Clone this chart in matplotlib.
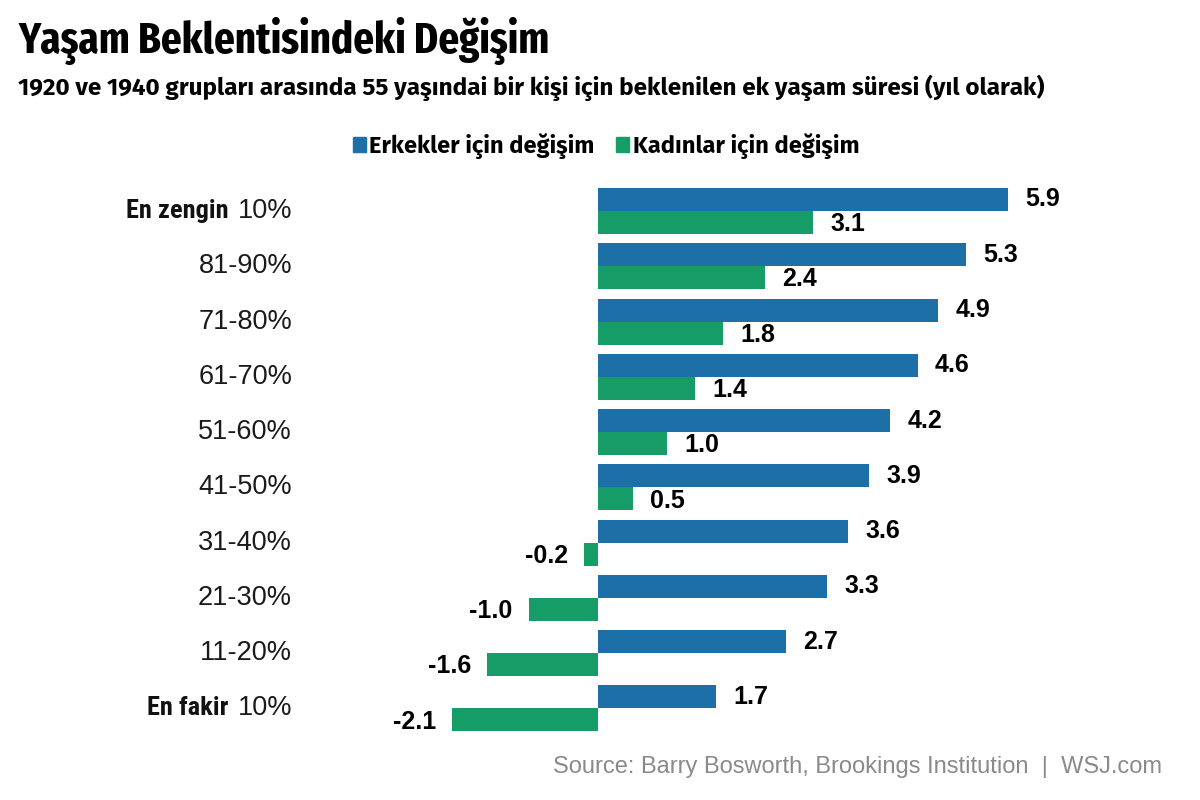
import matplotlib.pyplot as plt
from matplotlib.patches import Patch

# Veriler
kategoriler = ['En zengin 10%', '81-90%', '71-80%', '61-70%', '51-60%',
               '41-50%', '31-40%', '21-30%', '11-20%', 'En fakir 10%']
erkekler = [5.9, 5.3, 4.9, 4.6, 4.2, 3.9, 3.6, 3.3, 2.7, 1.7]
kadinlar = [3.1, 2.4, 1.8, 1.4, 1.0, 0.5, -0.2, -1.0, -1.6, -2.1]

mavi = '#1c6fa7'
yesil = '#169c66'
baslik_font = ['Fira Sans Extra Condensed', 'DejaVu Sans']
genis = ['Fira Sans', 'DejaVu Sans']
etiket_kalin = ['Roboto Condensed', 'DejaVu Sans']

fig = plt.figure(figsize=(12, 8), dpi=100)
ax = fig.add_axes([300 / 1200, 1 - 740 / 800, 860 / 1200, 560 / 800])

y = list(range(len(kategoriler)))
h = 0.416
ax.barh([i - h / 2 for i in y], erkekler, height=h, color=mavi)
ax.barh([i + h / 2 for i in y], kadinlar, height=h, color=yesil)

# Değer etiketleri
for i, v in enumerate(erkekler):
    ax.text(v + 0.25, i - h / 2, f'{v:.1f}', ha='left', va='center',
            fontsize=18, fontweight='bold', family='Liberation Sans')
for i, v in enumerate(kadinlar):
    if v >= 0:
        ax.text(v + 0.25, i + h / 2 + 0.03, f'{v:.1f}', ha='left', va='center',
                fontsize=18, fontweight='bold', family='Liberation Sans')
    else:
        ax.text(v - 0.23, i + h / 2 + 0.03, f'{v:.1f}', ha='right', va='center',
                fontsize=18, fontweight='bold', family='Liberation Sans')

ax.set_xlim(-4.29, 8.09)
ax.set_ylim(9.57, -0.56)
ax.axis('off')

# Kategori etiketleri (ilk ve son satırda kalın kısım)
fig.canvas.draw()
r = fig.canvas.get_renderer()
for i, k in enumerate(kategoriler):
    parca = k.rsplit(' ', 1)
    t = ax.annotate(parca[-1], xy=(0, i), xycoords=('axes fraction', 'data'),
                    xytext=(-8, 0), textcoords='offset pixels',
                    ha='right', va='center', fontsize=19.5,
                    family='Liberation Sans', color='#1a1a1a')
    if len(parca) > 1:
        bb = t.get_window_extent(renderer=r)
        fig.text(bb.x0 - 9, (bb.y0 + bb.y1) / 2, parca[0], ha='right',
                 va='center', fontsize=19, fontweight='bold',
                 family=etiket_kalin, transform=None, color='#111111')

# Başlık ve alt başlık
fig.text(18 / 1200, 1 - 53 / 800, 'Yaşam Beklentisindeki Değişim',
         fontsize=32, fontweight='bold', family=baslik_font, va='baseline')
fig.text(18 / 1200, 1 - 95 / 800,
         '1920 ve 1940 grupları arasında 55 yaşındai bir kişi için '
         'beklenilen ek yaşam süresi (yıl olarak)',
         fontsize=17.5, fontweight='bold', family=genis, va='baseline')

# Lejant
eller = [Patch(color=mavi), Patch(color=yesil)]
fig.legend(eller, ['Erkekler için değişim', 'Kadınlar için değişim'],
           loc='center', bbox_to_anchor=(606 / 1200, 1 - 146 / 800), ncol=2,
           frameon=False, handlelength=0.55, handleheight=0.55,
           handletextpad=0.15, columnspacing=0.9,
           prop={'family': genis, 'weight': 'bold', 'size': 17})

# Kaynak
fig.text(1162 / 1200, 1 - 767 / 800,
         'Source: Barry Bosworth, Brookings Institution  |  WSJ.com',
         ha='right', va='center', fontsize=17, color='#8a8a8a',
         family='Liberation Sans')

fig.savefig('out.png', dpi=100)
